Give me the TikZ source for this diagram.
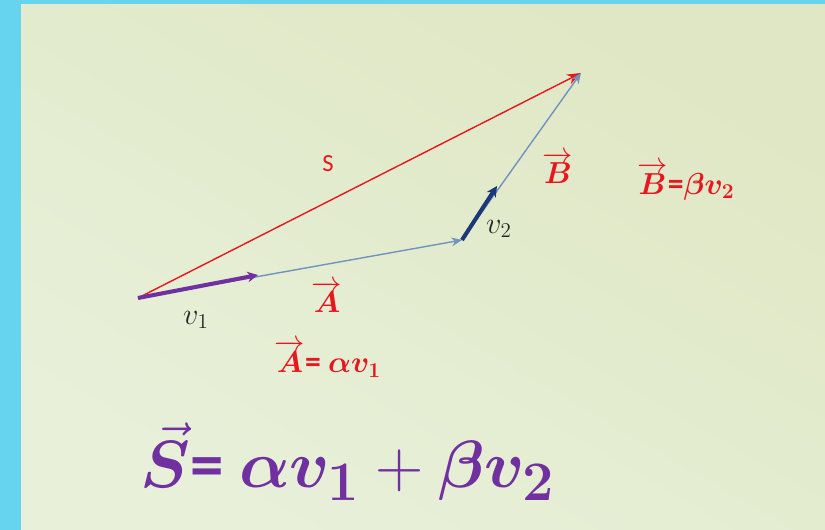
\documentclass[tikz,border=0pt]{standalone}
\usepackage{amsmath}
\usepackage{bm}
\usepackage{fontspec}
\setmainfont{Carlito}
\usepackage{xcolor}
\usetikzlibrary{arrows.meta}
\definecolor{slidecyan}{RGB}{102,212,238}
\definecolor{slidegreen}{RGB}{223,231,196}
\definecolor{slidelight}{RGB}{232,240,218}
\definecolor{vecred}{RGB}{232,22,30}
\definecolor{vecpurple}{RGB}{112,48,160}
\definecolor{vecnavy}{RGB}{30,55,120}
\definecolor{vecsteel}{RGB}{112,148,190}
\tikzset{
    sumvec/.style={vecred, line width=0.8pt, -{Stealth[length=8pt, width=6pt]}},
    partvec/.style={vecsteel, line width=0.8pt, -{Stealth[length=6pt, width=5pt]}},
    basisone/.style={vecpurple, line width=2.3pt, -{Stealth[length=6pt, width=6pt]}},
    basistwo/.style={vecnavy, line width=2.3pt, -{Stealth[length=6pt, width=6pt]}},
    redlabel/.style={vecred, font=\fontsize{18}{22}\selectfont\bfseries},
    vlabel/.style={black!85, font=\fontsize{18}{22}\selectfont}
}

\begin{document}
\begin{tikzpicture}[x=0.02cm, y=-0.02cm]
    % Slide background
    \fill[slidecyan] (0,0) rectangle (825,530);
    \shade[top color=slidegreen, middle color=slidegreen, bottom color=slidelight, shading angle=-30] (21,5) rectangle (825,530);
    \useasboundingbox (0,0) rectangle (825,530);

    % Points of the parallelogram
    \coordinate (O) at (138,298);
    \coordinate (P) at (462,240);
    \coordinate (Q) at (581,73);
    \coordinate (V1) at (258,275);
    \coordinate (V2) at (497,186);

    % Sum and components
    \draw[sumvec] (O) -- (Q);
    \draw[partvec] (O) -- (P);
    \draw[partvec] (P) -- (Q);

    % Basis vectors
    \draw[basisone] (O) -- (V1);
    \draw[basistwo] (P) -- (V2);

    % Labels
    \node[vecred, font=\fontsize{14}{16}\selectfont] (labS) at (328,164) {S};
    \node[vlabel] (labv1) at (196,320) {$v_1$};
    \node[vlabel] (labv2) at (499,229) {$v_2$};
    \node[redlabel] (labA) at (327,297) {$\overrightarrow{\bm{A}}$};
    \node[redlabel] (labB) at (558,168) {$\overrightarrow{\bm{B}}$};
    \node[redlabel] (eqA) at (328,359) {$\overrightarrow{\bm{A}}$= $\bm{\alpha v_1}$};
    \node[redlabel] (eqB) at (686,181) {$\overrightarrow{\bm{B}}$=$\bm{\beta v_2}$};

    % Sum formula
    \node[vecpurple, font=\fontsize{24.88}{30}\selectfont\bfseries] (eqS) at (348,462) {\scalebox{1.53}{$\vec{\bm{S}}$= $\bm{\alpha v_1} + \bm{\beta v_2}$}};
\end{tikzpicture}
\end{document}
